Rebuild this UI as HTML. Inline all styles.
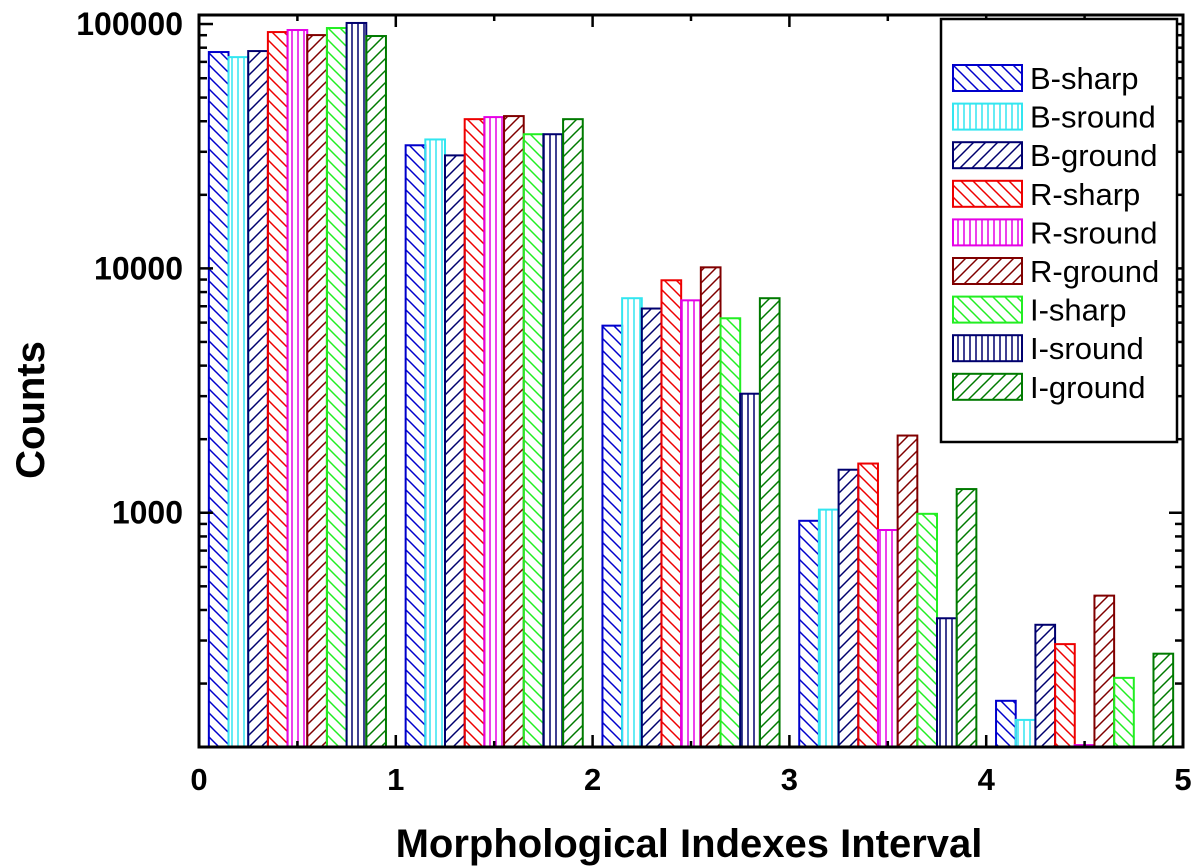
<!DOCTYPE html>
<html><head><meta charset="utf-8"><style>
html,body{margin:0;padding:0;background:#fff;}
svg{display:block;font-family:"Liberation Sans",Arial,sans-serif;}
</style></head><body>
<svg id="chart" width="1200" height="868" viewBox="0 0 1200 868" xmlns="http://www.w3.org/2000/svg">
<defs id="defs"></defs>
<g id="bars"></g>
<g id="axes"></g>
<g id="legend"></g>
</svg>
<script>
const categories = [0, 1, 2, 3, 4];
const seriesNames = ["B-sharp","B-sround","B-ground","R-sharp","R-sround","R-ground","I-sharp","I-sround","I-ground"];
const seriesColors = ["#0000cc","#33e6f0","#00006e","#ee0000","#e600e6","#800000","#22ee22","#00006e","#007a00"];
const seriesHatch = ["back","vert","fwd","back","vert","fwd","back","vert","fwd"];
const bSharp   = [76800, 31900, 5830, 927, 170];
const bSround  = [73200, 33700, 7550, 1030, 142];
const bGround  = [77500, 29000, 6850, 1500, 348];
const rSharp   = [92700, 40800, 8940, 1590, 290];
const rSround  = [94500, 41600, 7400, 850, 112];
const rGround  = [90100, 42000, 10100, 2070, 458];
const iSharp   = [96300, 35400, 6250, 990, 211];
const iSround  = [101000, 35400, 3070, 370, 0];
const iGround  = [89300, 40800, 7550, 1250, 265];
const seriesValues = [bSharp,bSround,bGround,rSharp,rSround,rGround,iSharp,iSround,iGround];
const xTicks = [0,1,2,3,4,5];
const yTicks = [1000, 10000, 100000];

const NS="http://www.w3.org/2000/svg";
const L=199,R=1183,T=15,B=747;
const yMin=110,yMax=108870;
function xs(v){return L+(v/5)*(R-L);}
function ys(v){return B-(Math.log10(v)-Math.log10(yMin))/(Math.log10(yMax)-Math.log10(yMin))*(B-T);}
function mk(tag,attrs,parent){const e=document.createElementNS(NS,tag);for(const k in attrs)e.setAttribute(k,attrs[k]);parent.appendChild(e);return e;}

const defs=document.getElementById('defs');
seriesNames.forEach((n,i)=>{
  const p=mk('pattern',{id:'pat'+i,patternUnits:'userSpaceOnUse',width:12,height:12},defs);
  const c=seriesColors[i];
  if(seriesHatch[i]==='vert'){mk('line',{x1:4,y1:0,x2:4,y2:12,stroke:c,'stroke-width':1.5},p);p.setAttribute('width',6);}
  else if(seriesHatch[i]==='back'){mk('path',{d:'M0,0L12,12M-6,6L6,18M6,-6L18,6',stroke:c,'stroke-width':1.5},p);}
  else {mk('path',{d:'M0,12L12,0M-6,6L6,-6M6,18L18,6',stroke:c,'stroke-width':1.5},p);}
});

const gb=document.getElementById('bars');
const bw=0.1;
categories.forEach((cat,ci)=>{
  seriesValues.forEach((arr,si)=>{
    const v=arr[ci]; if(!v||v<=yMin) return;
    const x0=xs(cat+0.05+si*bw), x1=xs(cat+0.05+(si+1)*bw);
    const y=ys(v);
    const r=mk('rect',{x:x0,y:y,width:x1-x0,height:B-y,fill:'url(#pat'+si+')',stroke:seriesColors[si],'stroke-width':2},gb);
    
    
  });
});

const ga=document.getElementById('axes');
mk('rect',{x:L,y:T,width:R-L,height:B-T,fill:'none',stroke:'#000','stroke-width':3},ga);
xTicks.forEach(t=>{
  const x=xs(t);
  mk('line',{x1:x,y1:B,x2:x,y2:B-12,stroke:'#000','stroke-width':2.5},ga);
  mk('line',{x1:x,y1:T,x2:x,y2:T+12,stroke:'#000','stroke-width':2.5},ga);
  if(t<5){const xm=xs(t+0.5);
    mk('line',{x1:xm,y1:B,x2:xm,y2:B-6,stroke:'#000','stroke-width':2.5},ga);
    mk('line',{x1:xm,y1:T,x2:xm,y2:T+6,stroke:'#000','stroke-width':2.5},ga);}
  const tx=mk('text',{x:x,y:790,'font-size':31,'font-weight':'bold','text-anchor':'middle'},ga);
  tx.textContent=t;
  
  
});
for(let d=2;d<=5;d++){
  for(let m=1;m<10;m++){
    const v=m*Math.pow(10,d); if(v<yMin||v>yMax) continue;
    const y=ys(v), len=(m===1)?14:8;
    mk('line',{x1:L,y1:y,x2:L+len,y2:y,stroke:'#000','stroke-width':2.5},ga);
    mk('line',{x1:R,y1:y,x2:R-len,y2:y,stroke:'#000','stroke-width':2.5},ga);
  }
}
yTicks.forEach(v=>{
  const t=mk('text',{x:183,y:ys(v)+11,'font-size':32,'font-weight':'bold','text-anchor':'end'},ga);
  t.textContent=v;
  
  
});
const xt=mk('text',{x:689,y:857,'font-size':40,'font-weight':'bold','text-anchor':'middle'},ga);
xt.textContent='Morphological Indexes Interval';


const yt=mk('text',{x:0,y:0,'font-size':40,'font-weight':'bold','text-anchor':'middle',transform:'translate(44,410) rotate(-90)'},ga);
yt.textContent='Counts';



const gl=document.getElementById('legend');
mk('rect',{x:941,y:19,width:236,height:423,fill:'#fff',stroke:'#000','stroke-width':2.5},gl);
seriesNames.forEach((n,i)=>{
  const y=65+i*38.6;
  const g=mk('g',{},gl);
  
  
  mk('rect',{x:953,y:y,width:69,height:26,fill:'url(#pat'+i+')',stroke:seriesColors[i],'stroke-width':2},g);
  const t=mk('text',{x:1030,y:y+24,'font-size':31},g);
  t.textContent=n;
});
</script>
</body></html>
